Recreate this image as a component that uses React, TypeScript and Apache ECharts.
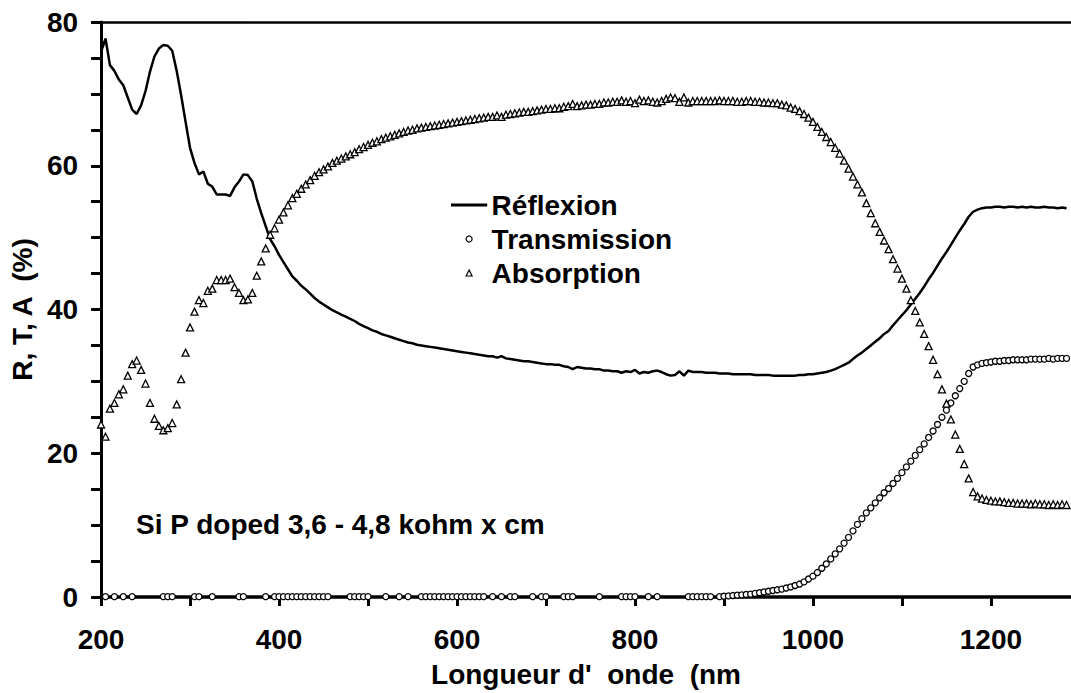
import { useEffect, useRef } from "react";
import * as echarts from "echarts";

// Wavelength grid (nm)
const wavelengths = [
  200, 205, 210, 215, 220, 225, 230, 235, 240, 245,
  250, 255, 260, 265, 270, 275, 280, 285, 290, 295,
  300, 305, 310, 315, 320, 325, 330, 335, 340, 345,
  350, 355, 360, 365, 370, 375, 380, 385, 390, 395,
  400, 405, 410, 415, 420, 425, 430, 435, 440, 445,
  450, 455, 460, 465, 470, 475, 480, 485, 490, 495,
  500, 505, 510, 515, 520, 525, 530, 535, 540, 545,
  550, 555, 560, 565, 570, 575, 580, 585, 590, 595,
  600, 605, 610, 615, 620, 625, 630, 635, 640, 645,
  650, 655, 660, 665, 670, 675, 680, 685, 690, 695,
  700, 705, 710, 715, 720, 725, 730, 735, 740, 745,
  750, 755, 760, 765, 770, 775, 780, 785, 790, 795,
  800, 805, 810, 815, 820, 825, 830, 835, 840, 845,
  850, 855, 860, 865, 870, 875, 880, 885, 890, 895,
  900, 905, 910, 915, 920, 925, 930, 935, 940, 945,
  950, 955, 960, 965, 970, 975, 980, 985, 990, 995,
  1000, 1005, 1010, 1015, 1020, 1025, 1030, 1035, 1040, 1045,
  1050, 1055, 1060, 1065, 1070, 1075, 1080, 1085, 1090, 1095,
  1100, 1105, 1110, 1115, 1120, 1125, 1130, 1135, 1140, 1145,
  1150, 1155, 1160, 1165, 1170, 1175, 1180, 1185, 1190, 1195,
  1200, 1205, 1210, 1215, 1220, 1225, 1230, 1235, 1240, 1245,
  1250, 1255, 1260, 1265, 1270, 1275, 1280, 1285,
];

// Réflexion (%)
const reflexion = [
  75.8, 77.7, 74.0, 73.2, 72.0, 71.2, 69.5, 67.8, 67.2, 68.4,
  70.4, 73.1, 75.2, 76.3, 76.8, 76.7, 76.0, 73.2, 69.8, 66.1,
  62.5, 60.4, 58.8, 59.2, 57.5, 57.1, 56.0, 56.0, 56.0, 55.8,
  57.0, 57.8, 58.8, 58.7, 57.8, 55.4, 53.4, 51.6, 49.8, 48.8,
  47.6, 46.6, 45.6, 44.6, 44.0, 43.3, 42.8, 42.2, 41.6, 41.1,
  40.7, 40.3, 39.9, 39.6, 39.3, 39.0, 38.7, 38.4, 38.0, 37.7,
  37.4, 37.1, 36.9, 36.6, 36.4, 36.2, 36.0, 35.8, 35.6, 35.4,
  35.3, 35.1, 35.0, 34.9, 34.8, 34.7, 34.6, 34.5, 34.4, 34.3,
  34.2, 34.1, 34.0, 33.9, 33.8, 33.7, 33.6, 33.5, 33.5, 33.3,
  33.5, 33.2, 33.1, 33.0, 32.9, 32.8, 32.8, 32.7, 32.6, 32.5,
  32.4, 32.4, 32.3, 32.3, 32.1, 32.0, 31.7, 32.0, 31.9, 31.8,
  31.8, 31.7, 31.7, 31.5, 31.5, 31.4, 31.4, 31.2, 31.4, 31.3,
  31.6, 31.1, 31.3, 31.2, 31.4, 31.5, 31.3, 31.0, 30.8, 30.9,
  31.4, 30.8, 31.5, 31.3, 31.3, 31.3, 31.2, 31.2, 31.2, 31.1,
  31.1, 31.1, 31.0, 31.0, 31.0, 31.0, 31.0, 30.9, 30.9, 30.9,
  30.9, 30.8, 30.8, 30.8, 30.8, 30.8, 30.8, 30.9, 30.9, 31.0,
  31.0, 31.1, 31.2, 31.3, 31.5, 31.7, 32.0, 32.3, 32.6, 33.1,
  33.6, 34.0, 34.5, 35.0, 35.5, 36.0, 36.6, 37.0, 37.8, 38.5,
  39.2, 39.9, 40.7, 41.5, 42.3, 43.2, 44.2, 45.1, 46.1, 47.1,
  48.0, 49.0, 50.0, 51.0, 51.9, 52.9, 53.6, 53.9, 54.1, 54.2,
  54.2, 54.3, 54.3, 54.2, 54.3, 54.3, 54.2, 54.3, 54.2, 54.3,
  54.2, 54.2, 54.3, 54.2, 54.2, 54.1, 54.2, 54.1,
];

// Transmission (%) — slightly negative readings fall below the axis and are clipped
const transmission = [
  -0.5, 0.05, -0.5, 0.05, -0.5, 0.05, -0.5, 0.05, -0.5, -0.5,
  -0.5, -0.5, -0.5, -0.5, 0.05, 0.05, 0.05, -0.5, -0.5, -0.5,
  -0.5, 0.05, 0.05, -0.5, -0.5, 0.05, -0.5, -0.5, -0.5, -0.5,
  -0.5, 0.05, 0.05, -0.5, -0.5, -0.5, -0.5, 0.05, -0.5, 0.05,
  0.05, 0.05, 0.05, 0.05, 0.05, 0.05, 0.05, 0.05, 0.05, 0.05,
  0.05, 0.05, -0.5, -0.5, -0.5, -0.5, 0.05, 0.05, 0.05, 0.05,
  0.05, -0.5, -0.5, -0.5, 0.05, -0.5, -0.5, 0.05, -0.5, 0.05,
  -0.5, -0.5, 0.05, 0.05, 0.05, 0.05, 0.05, 0.05, 0.05, 0.05,
  0.05, 0.05, 0.05, 0.05, 0.05, 0.05, 0.05, -0.5, 0.05, -0.5,
  0.05, -0.5, 0.05, 0.05, -0.5, -0.5, -0.5, 0.05, -0.5, 0.05,
  0.05, -0.5, -0.5, -0.5, 0.05, 0.05, 0.05, -0.5, -0.5, -0.5,
  -0.5, -0.5, 0.05, -0.5, -0.5, -0.5, -0.5, 0.05, 0.05, 0.05,
  0.05, -0.5, -0.5, 0.05, -0.5, 0.05, -0.5, -0.5, -0.5, -0.5,
  -0.5, -0.5, 0.05, 0.05, 0.05, 0.05, 0.05, 0.05, -0.5, 0.05,
  0.1, 0.15, 0.2, 0.25, 0.3, 0.35, 0.4, 0.5, 0.6, 0.7,
  0.8, 0.9, 1.0, 1.1, 1.25, 1.4, 1.6, 1.8, 2.1, 2.5,
  2.9, 3.4, 4.0, 4.6, 5.3, 6.0, 6.7, 7.5, 8.3, 9.2,
  10.1, 10.9, 11.7, 12.4, 13.1, 13.8, 14.5, 15.1, 15.8, 16.5,
  17.3, 18.1, 18.9, 19.7, 20.5, 21.3, 22.2, 23.1, 24.0, 25.0,
  26.0, 27.0, 28.0, 29.0, 30.0, 31.1, 32.0, 32.3, 32.5, 32.6,
  32.7, 32.8, 32.8, 32.9, 32.9, 33.0, 33.0, 33.0, 33.0, 33.1,
  33.1, 33.1, 33.1, 33.2, 33.1, 33.2, 33.2, 33.2,
];

// Absorption (%)
const absorption = [
  24.0, 22.3, 26.2, 27.0, 28.2, 28.9, 30.8, 32.4, 32.9, 31.6,
  29.7, 27.0, 24.8, 23.8, 23.2, 23.5, 24.2, 26.8, 30.3, 34.0,
  37.5, 39.7, 41.3, 40.9, 42.6, 42.9, 44.1, 44.1, 44.1, 44.3,
  43.1, 42.3, 41.3, 41.4, 42.3, 44.7, 46.7, 48.5, 50.4, 51.3,
  52.5, 53.5, 54.5, 55.5, 56.1, 56.8, 57.4, 58.0, 58.6, 59.1,
  59.5, 59.9, 60.4, 60.7, 61.0, 61.3, 61.6, 61.9, 62.3, 62.6,
  62.9, 63.2, 63.4, 63.7, 63.9, 64.1, 64.3, 64.5, 64.7, 64.9,
  65.0, 65.2, 65.3, 65.4, 65.5, 65.6, 65.7, 65.8, 65.9, 66.0,
  66.1, 66.2, 66.3, 66.4, 66.5, 66.6, 66.7, 66.8, 66.8, 67.0,
  66.8, 67.1, 67.2, 67.3, 67.4, 67.5, 67.5, 67.6, 67.7, 67.8,
  67.9, 67.9, 68.0, 68.0, 68.2, 68.3, 68.6, 68.3, 68.4, 68.5,
  68.5, 68.6, 68.6, 68.8, 68.8, 68.9, 68.9, 69.1, 68.9, 69.0,
  68.7, 69.2, 69.0, 69.1, 68.9, 68.8, 69.0, 69.3, 69.5, 69.4,
  68.9, 69.5, 68.8, 69.0, 69.0, 69.0, 69.0, 69.0, 69.0, 69.1,
  69.0, 69.0, 69.0, 68.9, 68.9, 69.0, 69.0, 68.9, 68.9, 68.8,
  68.8, 68.7, 68.7, 68.5, 68.4, 68.1, 67.9, 67.6, 67.2, 66.7,
  66.1, 65.4, 64.7, 64.0, 63.3, 62.5, 61.7, 60.7, 59.6, 58.5,
  57.4, 56.3, 54.8, 53.4, 52.0, 50.8, 49.6, 48.4, 47.0, 45.7,
  44.3, 42.9, 41.3, 39.8, 38.2, 36.6, 34.9, 33.0, 31.0, 28.9,
  26.9, 24.7, 22.6, 20.6, 18.5, 16.5, 14.6, 14.0, 13.7, 13.5,
  13.4, 13.3, 13.3, 13.2, 13.1, 13.1, 13.0, 13.0, 13.0, 12.9,
  13.0, 12.9, 12.9, 12.8, 12.9, 12.8, 12.9, 12.8,
];

const xTickValues = [200, 300, 400, 500, 600, 700, 800, 900, 1000, 1100, 1200];
const xLabelValues = [200, 400, 600, 800, 1000, 1200];
const seriesNames = ["Réflexion", "Transmission", "Absorption"];
const xAxisTitle = "Longueur d'  onde  (nm";
const yAxisTitle = "R, T, A  (%)";
const annotation = "Si P doped 3,6 - 4,8 kohm x cm";

const FONT = "'Liberation Sans', Arial, Helvetica, sans-serif";
const textBase = { fontFamily: FONT, fontSize: 28, fontWeight: "bold" as const, color: "#000" };

export default function App() {
  const ref = useRef<HTMLDivElement>(null);

  useEffect(() => {
    document.body.style.margin = "0";
    document.body.style.overflow = "hidden";
    const chart = echarts.init(ref.current!, null, { renderer: "svg" });
    const pairs = (vals: number[]) => wavelengths.map((w, i) => [w, vals[i]]);
    const plain = (v: number) => String(v);

    chart.setOption({
      animation: false,
      backgroundColor: "#ffffff",
      grid: { left: 98, top: 22, right: 0, bottom: 96, containLabel: false },
      xAxis: [
        {
          type: "value",
          min: 200,
          max: 1290,
          position: "bottom",
          axisLine: { show: true, onZero: false, lineStyle: { color: "#000", width: 3.5 } },
          axisTick: {
            show: true,
            customValues: xTickValues,
            length: 9,
            lineStyle: { color: "#000", width: 3 },
          },
          axisLabel: { customValues: xLabelValues, margin: 28, formatter: plain, ...textBase },
          splitLine: { show: false },
          name: xAxisTitle,
          nameLocation: "middle",
          nameGap: 63,
          nameTextStyle: { ...textBase },
        },
        {
          type: "value",
          min: 200,
          max: 1290,
          position: "top",
          axisLine: { show: true, onZero: false, lineStyle: { color: "#000", width: 2.5 } },
          axisTick: { show: false },
          axisLabel: { show: false },
          splitLine: { show: false },
        },
      ],
      yAxis: {
        type: "value",
        min: 0,
        max: 80,
        interval: 20,
        axisLine: { show: true, onZero: false, lineStyle: { color: "#000", width: 3 } },
        axisTick: { show: true, length: 10, lineStyle: { color: "#000", width: 3 } },
        minorTick: { show: true, splitNumber: 4, length: 10, lineStyle: { color: "#000", width: 3 } },
        axisLabel: { margin: 23, formatter: plain, ...textBase },
        splitLine: { show: false },
        minorSplitLine: { show: false },
        name: yAxisTitle,
        nameLocation: "middle",
        nameRotate: 90,
        nameGap: 53,
        nameTextStyle: { ...textBase },
      },
      legend: {
        show: true,
        orient: "vertical",
        left: 451,
        top: 191,
        padding: 0,
        itemGap: 6,
        itemWidth: 35,
        itemHeight: 6,
        symbolKeepAspect: true,
        selectedMode: false,
        textStyle: { ...textBase },
        itemStyle: { borderWidth: 1.2 },
        data: [
          { name: seriesNames[0], icon: "path://M0 0H35V2H0Z" },
          { name: seriesNames[1], icon: "circle" },
          { name: seriesNames[2], icon: "path://M3 0L6 6L0 6Z" },
        ],
      },
      series: [
        {
          name: seriesNames[0],
          type: "line",
          data: pairs(reflexion),
          showSymbol: false,
          symbol: "none",
          lineStyle: { color: "#000", width: 2.5 },
          itemStyle: { color: "#000", borderColor: "#000" },
          z: 2,
        },
        {
          name: seriesNames[1],
          type: "scatter",
          data: pairs(transmission),
          symbol: "circle",
          symbolSize: 6,
          itemStyle: { color: "#fff", borderColor: "#000", borderWidth: 1.3, opacity: 1 },
          z: 3,
        },
        {
          name: seriesNames[2],
          type: "scatter",
          data: pairs(absorption),
          symbol: "triangle",
          symbolSize: 7,
          itemStyle: { color: "#fff", borderColor: "#000", borderWidth: 1.3, opacity: 1 },
          z: 3,
        },
      ],
      graphic: [
        {
          type: "text",
          x: 136,
          y: 524,
          style: {
            text: annotation,
            fill: "#000",
            fontFamily: FONT,
            fontSize: 28,
            fontWeight: "bold",
            verticalAlign: "middle",
            align: "left",
          },
        },
      ],
    });

    return () => chart.dispose();
  }, []);

  return <div ref={ref} style={{ width: 1071, height: 693 }} />;
}
